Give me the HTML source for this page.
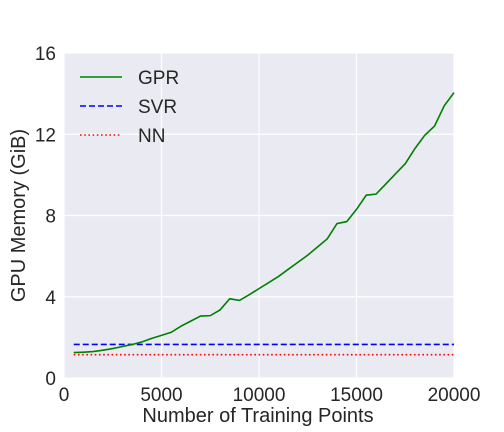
<!DOCTYPE html>
<html><head><meta charset="utf-8"><style>body{margin:0;background:#fff}svg{display:block;font-family:"Liberation Sans",sans-serif}</style></head>
<body>
<svg id="chart" width="504" height="432"></svg>
<script>
const xValues=[500,1000,1500,2000,2500,3000,3500,4000,4500,5000,5500,6000,6500,7000,7500,8000,8500,9000,9500,10000,10500,11000,11500,12000,12500,13000,13500,14000,14500,15000,15500,16000,16500,17000,17500,18000,18500,19000,19500,20000];
const gprValues=[1.25,1.27,1.3,1.37,1.45,1.55,1.65,1.78,1.95,2.1,2.25,2.55,2.8,3.05,3.07,3.35,3.9,3.82,4.1,4.4,4.7,5.0,5.35,5.7,6.05,6.45,6.85,7.6,7.7,8.3,9.0,9.05,9.55,10.05,10.55,11.3,11.95,12.4,13.4,14.05];
const svrValue=[1.65];
const nnValue=[1.15];
const xTicks=[0,5000,10000,15000,20000];
const yTicks=[0,4,8,12,16];
const NS="http://www.w3.org/2000/svg";
const svg=document.getElementById('chart');
const L=64,R=454,T=53,B=378;
const sx=v=>L+(v-0)/20000*(R-L);
const sy=v=>B-(v/16)*(B-T);
function mk(t,a,p){const e=document.createElementNS(NS,t);for(const k in a)e.setAttribute(k,a[k]);(p||svg).appendChild(e);return e;}
let bg=mk('rect',{x:L,y:T,width:R-L,height:B-T,fill:'#eaeaf2'});


xTicks.forEach(v=>{
 let g=mk('line',{x1:sx(v),x2:sx(v),y1:T,y2:B,stroke:'#fff','stroke-width':1.2});
 
 
 let t=mk('text',{x:sx(v),y:B+23,'text-anchor':'middle','font-size':19,fill:'#262626'});t.textContent=v;
 
 
});
yTicks.forEach(v=>{
 let g=mk('line',{x1:L,x2:R,y1:sy(v),y2:sy(v),stroke:'#fff','stroke-width':1.2});
 
 
 let t=mk('text',{x:L-8,y:sy(v)+7,'text-anchor':'end','font-size':19,fill:'#262626'});t.textContent=v;
 
 
});
let svr=mk('line',{x1:sx(xValues[0]),x2:sx(xValues[xValues.length-1]),y1:sy(svrValue[0]),y2:sy(svrValue[0]),stroke:'#0000ff','stroke-width':1.6,'stroke-dasharray':'6,3'});


let nn=mk('line',{x1:sx(xValues[0]),x2:sx(xValues[xValues.length-1]),y1:sy(nnValue[0]),y2:sy(nnValue[0]),stroke:'#ff0000','stroke-width':1.6,'stroke-dasharray':'1.6,2.6'});


let gpr=mk('polyline',{points:xValues.map((x,i)=>sx(x)+','+sy(gprValues[i])).join(' '),fill:'none',stroke:'#008000','stroke-width':1.6});


let xl=mk('text',{x:(L+R)/2-1,y:422,'text-anchor':'middle','font-size':20,fill:'#262626'});xl.textContent='Number of Training Points';


let yl=mk('text',{x:0,y:0,'text-anchor':'middle','font-size':20,fill:'#262626',transform:`translate(25,${(T+B)/2}) rotate(-90)`});yl.textContent='GPU Memory (GiB)';


const leg=[['GPR','#008000',''],['SVR','#0000ff','6,3'],['NN','#ff0000','1.6,2.6']];
leg.forEach((d,i)=>{
 const y=77+i*29;
 let g=mk('g',{});
 
 
 mk('line',{x1:80,x2:122,y1:y,y2:y,stroke:d[1],'stroke-width':1.6,'stroke-dasharray':d[2]},g);
 let t=mk('text',{x:138,y:y+7,'font-size':19,fill:'#262626'},g);t.textContent=d[0];
});
</script>
</body></html>
